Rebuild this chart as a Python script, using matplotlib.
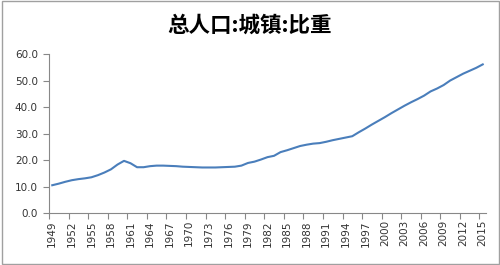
import matplotlib
matplotlib.use("Agg")
import matplotlib.pyplot as plt
from matplotlib.patches import Rectangle
import numpy as np

plt.rcParams["font.family"] = ["Noto Sans CJK SC", "DejaVu Sans"]

years = list(range(1949, 2016))
urban_share = [
    10.5, 11.1, 11.8, 12.4, 12.8, 13.1, 13.5, 14.3, 15.3, 16.5,
    18.3, 19.7, 18.8, 17.3, 17.3, 17.7, 17.9, 17.9, 17.8, 17.7,
    17.5, 17.4, 17.3, 17.2, 17.2, 17.2, 17.3, 17.4, 17.5, 17.9,
    18.9, 19.4, 20.2, 21.1, 21.6, 23.0, 23.7, 24.5, 25.3, 25.8,
    26.2, 26.4, 26.9, 27.5, 28.0, 28.5, 29.0, 30.5, 31.9, 33.4,
    34.8, 36.2, 37.7, 39.1, 40.5, 41.8, 43.0, 44.3, 45.9, 47.0,
    48.3, 50.0, 51.3, 52.6, 53.7, 54.8, 56.1,
]
y_ticks = [0, 10, 20, 30, 40, 50, 60]
title = "总人口:城镇:比重"

fig = plt.figure(figsize=(5.0, 2.65), dpi=100)
fig.patches.append(Rectangle((0.003, 0.005), 0.994, 0.99, transform=fig.transFigure,
                             fill=False, edgecolor="#a0a0a0", linewidth=1.0))
ax = fig.add_axes([0.098, 0.196, 0.874, 0.6])

x = np.arange(len(years))
ax.plot(x, urban_share, color="#4A7EBB", linewidth=1.5)

ax.set_xlim(-0.5, len(years) - 0.5)
ax.set_ylim(0, 60)
ax.set_yticks(y_ticks)
ax.set_yticklabels([f"{v:.1f}" for v in y_ticks], fontsize=7.5, color="#333333",
                   family="DejaVu Sans")

# tick marks on category boundaries, labels on category centres
ax.set_xticks(np.arange(-0.5, len(years), 3))
ax.set_xticklabels([])
ax.set_xticks(x[::3], minor=True)
ax.set_xticklabels([str(y) for y in years[::3]], minor=True, rotation=90,
                   fontsize=7.5, color="#333333", family="DejaVu Sans")
ax.tick_params(axis="x", which="major", length=4, color="#888888")
ax.tick_params(axis="x", which="minor", length=0, pad=5)
ax.tick_params(axis="y", length=4, color="#888888", pad=4)

for side in ("top", "right"):
    ax.spines[side].set_visible(False)
for side in ("left", "bottom"):
    ax.spines[side].set_color("#888888")
    ax.spines[side].set_linewidth(0.8)

fig.text(0.5, 0.905, title, ha="center", va="center", fontsize=15.5, fontweight="bold")

fig.savefig("out.png", dpi=100)
